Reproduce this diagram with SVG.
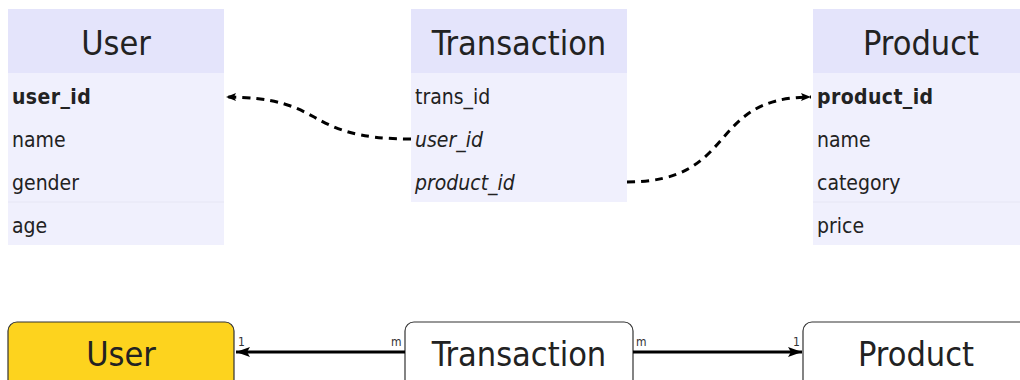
<svg xmlns="http://www.w3.org/2000/svg" width="1020" height="380" viewBox="0 0 1020 380">
  <defs>
    <marker id="tip" viewBox="0 0 10 10" refX="10" refY="5" markerWidth="10" markerHeight="10" markerUnits="userSpaceOnUse" orient="auto">
      <path d="M0,1 L10,5 L0,9 L2,5 Z" fill="#000"/>
    </marker>
    <marker id="tipBig" viewBox="0 0 14 12" refX="14" refY="6" markerWidth="14" markerHeight="12" markerUnits="userSpaceOnUse" orient="auto">
      <path d="M0,1 L14,6 L0,11 L3,6 Z" fill="#000"/>
    </marker>
  </defs>
  <style>
    text { font-family: "DejaVu Sans Condensed", "Liberation Sans", sans-serif; font-stretch: condensed; fill: #222; }
    .head { fill: #e4e4fb; }
    .row { fill: #f0f0fd; }
    .sep { stroke: #e6e6f4; stroke-width: 1; }
    .title { font-size: 34px; text-anchor: middle; }
    .field { font-size: 21px; }
    .key { font-weight: bold; letter-spacing: 0.4px; }
    .fk { font-style: italic; }
    .box { stroke: #333; stroke-width: 1.2; }
    .boxlabel { font-size: 34px; text-anchor: middle; }
    .card { font-size: 12px; fill: #333; }
    .fklink { fill: none; stroke: #000; stroke-width: 3; stroke-dasharray: 8 6; }
    .rel { fill: none; stroke: #000; stroke-width: 3; }
  </style>

  <!-- entity tables -->
  <g id="user-table">
    <rect class="head" x="8" y="9" width="216" height="64"/>
    <rect class="row" x="8" y="73" width="216" height="172"/>
    <line class="sep" x1="8" y1="202" x2="224" y2="202"/>
    <text class="title" x="116" y="55">User</text>
    <text class="field key" x="12" y="104">user_id</text>
    <text class="field" x="12" y="147">name</text>
    <text class="field" x="12" y="190">gender</text>
    <text class="field" x="12" y="233">age</text>
  </g>

  <g id="transaction-table">
    <rect class="head" x="411" y="9" width="216" height="64"/>
    <rect class="row" x="411" y="73" width="216" height="129"/>
    <text class="title" x="519" y="55">Transaction</text>
    <text class="field" x="415" y="104">trans_id</text>
    <text class="field fk" x="415" y="147">user_id</text>
    <text class="field fk" x="415" y="190">product_id</text>
  </g>

  <g id="product-table">
    <rect class="head" x="813" y="9" width="216" height="64"/>
    <rect class="row" x="813" y="73" width="216" height="172"/>
    <line class="sep" x1="813" y1="202" x2="1029" y2="202"/>
    <text class="title" x="921" y="55">Product</text>
    <text class="field key" x="817" y="104">product_id</text>
    <text class="field" x="817" y="147">name</text>
    <text class="field" x="817" y="190">category</text>
    <text class="field" x="817" y="233">price</text>
  </g>

  <!-- entity boxes -->
  <g id="user-box">
    <rect class="box" x="8" y="322" width="226" height="70" rx="9" fill="#fdd31e"/>
    <text class="boxlabel" x="121" y="366">User</text>
  </g>
  <g id="transaction-box">
    <rect class="box" x="405" y="322" width="228" height="70" rx="9" fill="#fff"/>
    <text class="boxlabel" x="519" y="366">Transaction</text>
  </g>
  <g id="product-box">
    <rect class="box" x="803" y="322" width="240" height="70" rx="9" fill="#fff"/>
    <text class="boxlabel" x="916" y="366">Product</text>
  </g>

  <!-- connectors -->
  <g id="connectors">
    <path class="fklink" d="M411,139 C300,139 330,97 226,97" marker-end="url(#tip)"/>
    <path class="fklink" d="M627,182 C740,182 705,97 811,97" marker-end="url(#tip)"/>
    <path class="rel" d="M405,352 L236,352" marker-end="url(#tipBig)"/>
    <path class="rel" d="M633,352 L802,352" marker-end="url(#tipBig)"/>
    <text class="card" x="238" y="346">1</text>
    <text class="card" x="391" y="346">m</text>
    <text class="card" x="636" y="346">m</text>
    <text class="card" x="793" y="346">1</text>
  </g>
</svg>
